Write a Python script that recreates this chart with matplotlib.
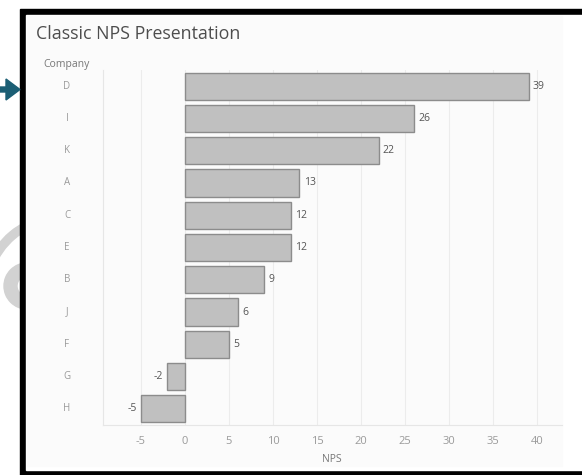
import matplotlib.pyplot as plt
import matplotlib.transforms as mtransforms
from matplotlib.patches import Rectangle, Wedge, FancyArrow

companies = ["D", "I", "K", "A", "C", "E", "B", "J", "F", "G", "H"]
nps = [39, 26, 22, 13, 12, 12, 9, 6, 5, -2, -5]
xticks = [-5, 0, 5, 10, 15, 20, 25, 30, 35, 40]

W, H = 582, 475
plt.rcParams["font.family"] = ["Open Sans", "DejaVu Sans"]
fig = plt.figure(figsize=(W / 100, H / 100), dpi=100)
fig.patch.set_facecolor("white")

# pixel coordinates, origin top-left (y grows downwards)
px = mtransforms.Affine2D().scale(1, -1).translate(0, H)

# faint grey logo behind the frame
fig.add_artist(Wedge((60, 292), 78, 200, 260, width=8, color="#d2d2d2", transform=px, zorder=0))
fig.add_artist(Wedge((27, 286), 23, 0, 360, width=13, color="#d2d2d2", transform=px, zorder=0))

# black frame and panel
fig.add_artist(Rectangle((20, 9), 600, 467, color="black", transform=px, zorder=1))
fig.add_artist(Rectangle((26, 15), 600, 455, color="white", transform=px, zorder=2))
fig.add_artist(Rectangle((27, 16), 535, 450, color="#fbfbfb", transform=px, zorder=2))

# teal pointer arrow on the left
fig.add_artist(FancyArrow(0, 89.5, 20, 0, width=5, head_width=21, head_length=14,
                          length_includes_head=True, color="#1b5e74", transform=px, zorder=3))

fig.text(36 / W, 1 - 34 / H, "Classic NPS Presentation", fontsize=12.8, color="#4d4d4d",
         va="center", ha="left", zorder=5)
fig.text(67 / W, 1 - 64 / H, "Company", fontsize=7.5, color="#777777",
         va="center", ha="center", zorder=5)
fig.text(332 / W, 1 - 460 / H, "NPS", fontsize=7.5, color="#777777",
         va="center", ha="center", zorder=5)

ax = fig.add_axes([103 / W, 1 - 425 / H, 459 / W, 355 / H], zorder=4)
ax.patch.set_alpha(0)

y = list(range(len(companies)))
ax.barh(y, nps, height=0.84, color="#c0c0c0", edgecolor="#8c8c8c", linewidth=1.0, zorder=3)

for yi, v in zip(y, nps):
    if v >= 0:
        ax.annotate(str(v), (v, yi), xytext=(3, 0), textcoords="offset points",
                    ha="left", va="center", fontsize=7.5, color="#555555")
    else:
        ax.annotate(str(v), (v, yi), xytext=(-3, 0), textcoords="offset points",
                    ha="right", va="center", fontsize=7.5, color="#555555")

lab_tr = mtransforms.blended_transform_factory(ax.transAxes, ax.transData)
for yi, c in zip(y, companies):
    ax.text(-36 / 459, yi, c, transform=lab_tr, ha="center", va="center",
            fontsize=7, color="#9a9a9a")

ax.set_ylim(len(companies) - 0.5, -0.5)
ax.set_xlim(-9.3, 42.8)
ax.set_yticks([])
ax.set_xticks(xticks)
ax.set_xticklabels([str(t) for t in xticks])
ax.tick_params(axis="x", length=0, pad=8, labelsize=8, labelcolor="#9a9a9a")
for t in xticks:
    ax.axvline(t, color="#ececec", linewidth=0.8, zorder=0)
for s in ["top", "right"]:
    ax.spines[s].set_visible(False)
for s in ["left", "bottom"]:
    ax.spines[s].set_color("#e6e6e6")
    ax.spines[s].set_linewidth(0.8)

fig.savefig("out.png", dpi=100)
